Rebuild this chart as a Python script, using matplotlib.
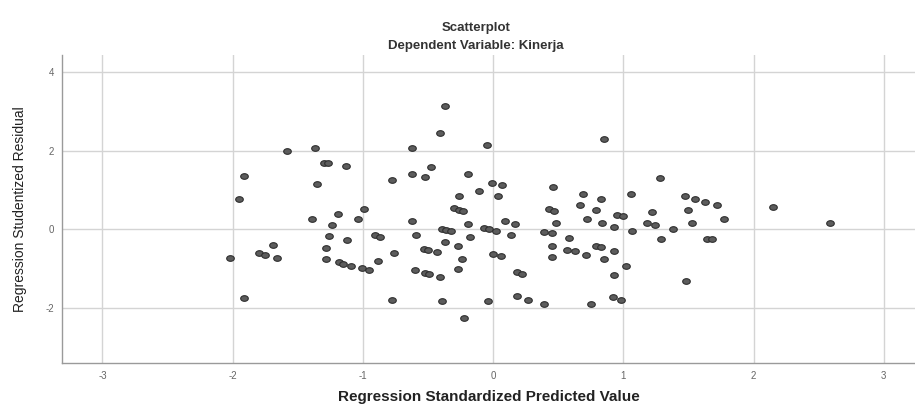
import matplotlib
matplotlib.use("Agg")
import matplotlib.pyplot as plt
import numpy as np

plt.rcParams["font.family"] = ["Liberation Sans", "DejaVu Sans"]

# Regression standardized predicted value (x) and studentized residual (y)
pred = [-1.58, -1.37, -1.91, -1.95, -1.30, -1.27, -1.35, -1.39, -1.69, -1.80,
        -1.75, -1.66, -2.02, -1.91, -1.28, -1.28, -1.24, -1.26, -1.13, -0.62,
        -0.78, -0.62, -0.52, -0.48, -1.19, -0.99, -1.04, -1.12, -0.91, -0.87,
        -0.62, -0.59, -0.53, -0.50, -0.76, -0.88, -1.18, -1.15, -1.09, -1.01,
        -0.95, -0.60, -0.52, -0.49, -0.78, -0.37, -0.41, -0.05, -0.19, -0.01,
        0.07, -0.11, 0.04, -0.26, -0.30, -0.26, -0.23, -0.19, 0.09, 0.17,
        -0.39, -0.36, -0.32, -0.07, -0.03, 0.02, -0.18, 0.14, -0.37, -0.27,
        -0.43, -0.24, -0.27, 0.00, 0.06, -0.41, 0.18, 0.22, -0.39, -0.04,
        -0.22, 0.18, 0.85, 0.46, 0.69, 0.83, 0.67, 0.79, 0.43, 0.47,
        0.72, 0.48, 0.84, 0.95, 1.00, 0.93, 0.39, 0.45, 0.58, 0.45,
        0.57, 0.63, 0.71, 0.79, 0.83, 0.85, 0.93, 0.45, 0.93, 0.27,
        0.39, 0.75, 0.92, 0.98, 1.28, 1.06, 1.47, 1.55, 1.63, 1.22,
        1.50, 1.18, 1.24, 1.53, 1.07, 1.38, 1.29, 1.64, 1.68, 1.02,
        1.48, 1.72, 1.77, 2.15, 2.59]
resid = [1.99, 2.08, 1.37, 0.77, 1.70, 1.68, 1.15, 0.26, -0.39, -0.60,
         -0.66, -0.72, -0.73, -1.75, -0.46, -0.75, 0.12, -0.17, 1.60, 2.06,
         1.25, 1.42, 1.34, 1.59, 0.39, 0.52, 0.27, -0.27, -0.14, -0.20,
         0.21, -0.13, -0.49, -0.51, -0.60, -0.79, -0.83, -0.87, -0.92, -0.99,
         -1.04, -1.02, -1.11, -1.14, -1.79, 3.14, 2.46, 2.14, 1.40, 1.19,
         1.13, 0.98, 0.84, 0.86, 0.54, 0.50, 0.48, 0.15, 0.22, 0.13,
         0.00, -0.01, -0.05, 0.03, 0.00, -0.04, -0.18, -0.14, -0.31, -0.41,
         -0.58, -0.76, -1.00, -0.63, -0.68, -1.20, -1.07, -1.13, -1.81, -1.81,
         -2.26, -1.70, 2.29, 1.09, 0.90, 0.78, 0.62, 0.50, 0.52, 0.48,
         0.27, 0.17, 0.16, 0.37, 0.33, 0.07, -0.06, -0.08, -0.22, -0.42,
         -0.51, -0.55, -0.64, -0.41, -0.44, -0.75, -0.55, -0.71, -1.15, -1.78,
         -1.88, -1.89, -1.71, -1.79, 1.30, 0.89, 0.85, 0.77, 0.69, 0.45,
         0.50, 0.17, 0.11, 0.17, -0.04, 0.00, -0.23, -0.24, -0.25, -0.92,
         -1.30, 0.63, 0.27, 0.56, 0.17]

x_ticks = [-3, -2, -1, 0, 1, 2, 3]
y_ticks = [-2, 0, 2, 4]

# slightly wide elliptical marker, as in the reference
t = np.linspace(0, 2 * np.pi, 40)
ellipse = list(zip(1.35 * np.cos(t), np.sin(t)))

fig = plt.figure(figsize=(9.15, 4.05), dpi=100)
ax = fig.add_axes([0.0678, 0.1037, 0.9322, 0.7605])

ax.scatter(pred, resid, s=30, marker=ellipse, facecolor="#5c5c5c",
           edgecolor="#2e2e2e", linewidths=0.8, zorder=3)

ax.set_xlim(-3.31, 3.24)
ax.set_ylim(-3.39, 4.43)
ax.set_xticks(x_ticks)
ax.set_yticks(y_ticks)
ax.set_xticklabels([str(v) for v in x_ticks])
ax.set_yticklabels([str(v) for v in y_ticks])
ax.grid(True, color="#d4d4d4", linewidth=1.0, zorder=0)
ax.set_axisbelow(True)
ax.tick_params(axis="both", length=0, labelsize=7, labelcolor="#666666", pad=6)

for side in ["top", "right"]:
    ax.spines[side].set_visible(False)
for side in ["left", "bottom"]:
    ax.spines[side].set_color("#9a9a9a")
    ax.spines[side].set_linewidth(1.0)

ax.set_xlabel("Regression Standardized Predicted Value", fontsize=11,
              fontweight="bold", color="#222222", labelpad=6)
ax.set_ylabel("Regression Studentized Residual", fontsize=10,
              color="#222222", labelpad=13)

fig.text(0.52, 0.930, "Scatterplot", ha="center", va="center",
         fontsize=9.5, fontweight="bold", color="#333333")
fig.text(0.52, 0.886, "Dependent Variable: Kinerja", ha="center", va="center",
         fontsize=9.5, fontweight="bold", color="#333333")

fig.savefig("out.png", dpi=100)
